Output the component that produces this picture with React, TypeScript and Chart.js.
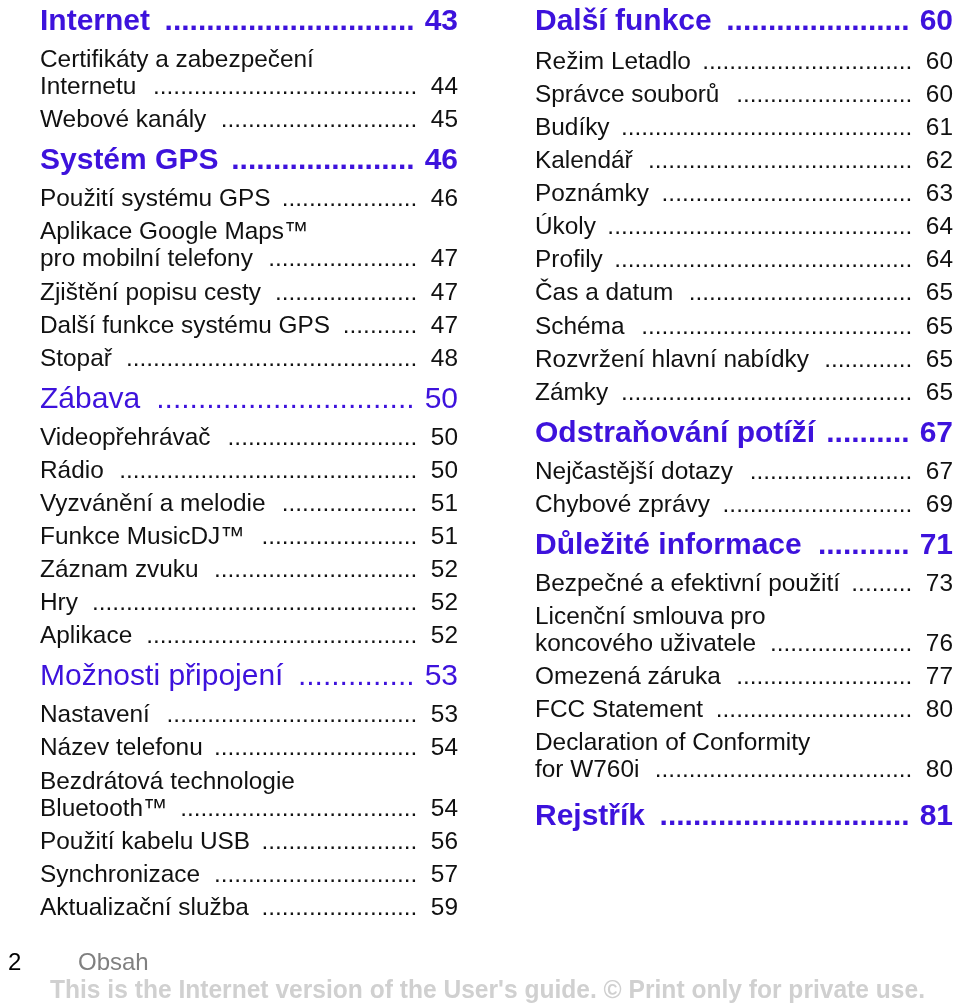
import React, { useEffect, useRef } from "react";
import { Chart, registerables } from "chart.js";

Chart.register(...registerables);

// h = heading, e = entry with page, w = first line of a wrapped entry (no page)
const leftTitles = [
  "Internet", "Certifikáty a zabezpečení", "Internetu", "Webové kanály",
  "Systém GPS", "Použití systému GPS", "Aplikace Google Maps™", "pro mobilní telefony",
  "Zjištění popisu cesty", "Další funkce systému GPS", "Stopař",
  "Zábava", "Videopřehrávač", "Rádio", "Vyzvánění a melodie", "Funkce MusicDJ™",
  "Záznam zvuku", "Hry", "Aplikace",
  "Možnosti připojení", "Nastavení", "Název telefonu", "Bezdrátová technologie",
  "Bluetooth™", "Použití kabelu USB", "Synchronizace", "Aktualizační služba",
];
const leftPages: (number | null)[] = [
  43, null, 44, 45,
  46, 46, null, 47,
  47, 47, 48,
  50, 50, 50, 51, 51,
  52, 52, 52,
  53, 53, 54, null,
  54, 56, 57, 59,
];
const leftKinds = [
  "h", "w", "e", "e",
  "h", "e", "w", "e",
  "e", "e", "e",
  "h", "e", "e", "e", "e",
  "e", "e", "e",
  "h", "e", "e", "w",
  "e", "e", "e", "e",
];

const rightTitles = [
  "Další funkce", "Režim Letadlo", "Správce souborů", "Budíky", "Kalendář",
  "Poznámky", "Úkoly", "Profily", "Čas a datum", "Schéma",
  "Rozvržení hlavní nabídky", "Zámky",
  "Odstraňování potíží", "Nejčastější dotazy", "Chybové zprávy",
  "Důležité informace", "Bezpečné a efektivní použití", "Licenční smlouva pro",
  "koncového uživatele", "Omezená záruka", "FCC Statement",
  "Declaration of Conformity", "for W760i",
  "Rejstřík",
];
const rightPages: (number | null)[] = [
  60, 60, 60, 61, 62,
  63, 64, 64, 65, 65,
  65, 65,
  67, 67, 69,
  71, 73, null,
  76, 77, 80,
  null, 80,
  81,
];
const rightKinds = [
  "h", "e", "e", "e", "e",
  "e", "e", "e", "e", "e",
  "e", "e",
  "h", "e", "e",
  "h", "e", "w",
  "e", "e", "e",
  "w", "e",
  "h",
];

// headings set in the heavier weight
const boldHeadings = ["Internet", "Systém GPS", "Další funkce", "Důležité informace", "Rejstřík", "Odstraňování potíží"];

const pageLabel = "2";
const sectionLabel = "Obsah";
const footerNote = "This is the Internet version of the User's guide. © Print only for private use.";

const HEADING_COLOR = "#3d12dc";
const FONT = '"Liberation Sans", Arial, Helvetica, sans-serif';

function layoutRows(kinds: string[], isRight: boolean): number[] {
  const ys: number[] = [];
  let y = 22;
  kinds.forEach((k, i) => {
    if (i > 0) {
      const prev = kinds[i - 1];
      if (k === "h") y += isRight && i === kinds.length - 1 ? 46 : 40.5;
      else if (prev === "h") y += isRight && i === 1 ? 40 : 38.5;
      else if (prev === "w") y += 27;
      else y += 33.1;
    }
    ys.push(y);
  });
  return ys;
}

function buildPoints(col: number, titles: string[], pages: (number | null)[], kinds: string[]) {
  const ys = layoutRows(kinds, col === 1);
  return titles.map((t, i) => ({ x: col, y: ys[i], title: t, page: pages[i], kind: kinds[i] }));
}

const COL_WIDTH = 418;

const tocPlugin = {
  id: "tocText",
  afterDatasetsDraw(chart: any) {
    const ctx = chart.ctx as CanvasRenderingContext2D;
    ctx.save();
    ctx.textBaseline = "middle";
    chart.data.datasets.forEach((ds: any, di: number) => {
      const meta = chart.getDatasetMeta(di);
      meta.data.forEach((el: any, i: number) => {
        const p = ds.data[i];
        const x = el.x;
        const y = el.y;
        const right = x + COL_WIDTH;
        const isHead = p.kind === "h";
        const weight = isHead && boldHeadings.includes(p.title) ? "bold " : "";
        const size = isHead ? 30 : 24.4;
        ctx.font = `${weight}${size}px ${FONT}`;
        ctx.fillStyle = isHead ? HEADING_COLOR : "#111111";
        ctx.textAlign = "left";
        ctx.fillText(p.title, x, y);
        if (p.page !== null) {
          const tw = ctx.measureText(p.title).width;
          const num = String(p.page);
          ctx.textAlign = "right";
          ctx.fillText(num, right, y);
          const nw = ctx.measureText(num).width;
          const sp = ctx.measureText(" ").width;
          const dw = ctx.measureText(".").width;
          const gapR = isHead ? 1.2 * sp : 2 * sp;
          const gapL = isHead ? 1.2 * sp : 1.6 * sp;
          const avail = right - nw - gapR - (x + tw + gapL);
          const n = Math.max(0, Math.floor(avail / dw));
          ctx.fillText(".".repeat(n), right - nw - gapR, y);
        }
      });
    });
    // footer
    ctx.textAlign = "left";
    ctx.font = `24px ${FONT}`;
    ctx.fillStyle = "#000000";
    ctx.fillText(pageLabel, 8, 963);
    ctx.fillStyle = "#808080";
    ctx.fillText(sectionLabel, 78, 963);
    ctx.font = `bold 26px "Liberation Sans Narrow", "Arial Narrow", ${FONT}`;
    ctx.fillStyle = "#d0d0d0";
    ctx.fillText(footerNote, 50, 991, 875);
    ctx.restore();
  },
};

export default function App() {
  const ref = useRef<HTMLCanvasElement | null>(null);
  useEffect(() => {
    document.body.style.margin = "0";
    if (!ref.current) return;
    const leftPts = buildPoints(0, leftTitles, leftPages, leftKinds);
    const rightPts = buildPoints(1, rightTitles, rightPages, rightKinds);
    const xMin = -40 / 495;
    const xMax = xMin + 960 / 495;
    const chart = new Chart(ref.current, {
      type: "scatter",
      data: {
        datasets: [
          { label: "left", data: leftPts as any, pointRadius: 0 },
          { label: "right", data: rightPts as any, pointRadius: 0 },
        ],
      },
      options: {
        animation: false,
        responsive: false,
        layout: { padding: 0 },
        events: [],
        scales: {
          x: { type: "linear", min: xMin, max: xMax, display: false },
          y: { type: "linear", min: 0, max: 1007, reverse: true, display: false },
        },
        plugins: { legend: { display: false }, tooltip: { enabled: false } },
      },
      plugins: [tocPlugin],
    });
    return () => chart.destroy();
  }, []);
  return (
    <div style={{ position: "fixed", left: 0, top: 0, width: 960, height: 1007, background: "#ffffff" }}>
      <canvas ref={ref} width={960} height={1007} style={{ display: "block" }} />
    </div>
  );
}
